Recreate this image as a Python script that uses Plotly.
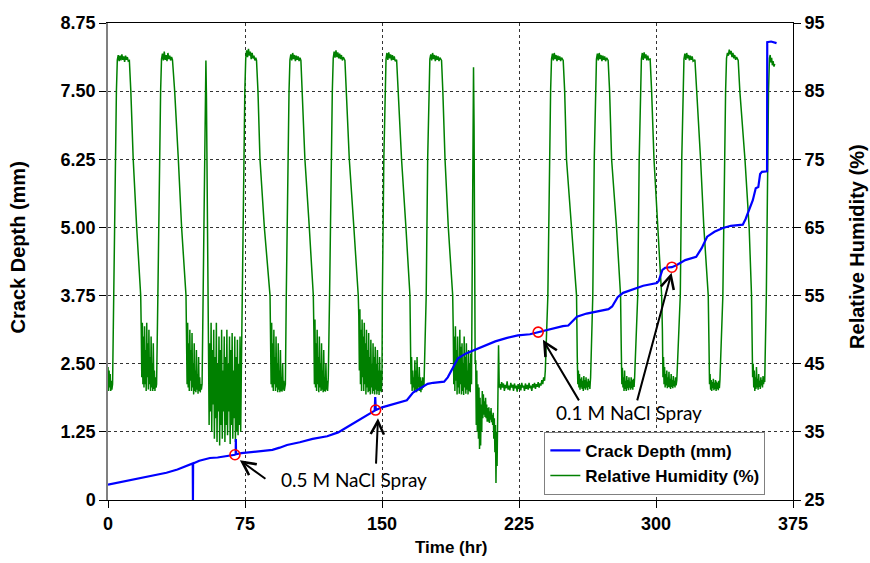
import plotly.graph_objects as go

# ---------------- data ----------------
# Relative humidity (%) vs time (hr)
rh_seg_a = [
    (0, 44.5), (0.3, 41), (0.6, 44), (0.9, 41.5), (1.2, 43.5), (1.5, 41), (1.8, 42.5), (2.1, 41.2), (2.5, 42),
    (3.1, 55), (3.9, 75), (4.6, 85), (5.1, 89.6),
    (5.6, 90.3), (6.1, 89.4), (6.6, 90.2), (7.1, 89.5), (7.6, 90.4), (8.1, 89.6), (8.6, 90.1), (9.1, 89.3),
    (9.6, 90.2), (10.1, 89.6), (10.6, 90), (11.1, 89.4), (11.7, 89.5),
    (12.5, 85), (13.8, 75), (15.7, 65), (17.9, 55),
    (18.2, 50), (18.5, 43), (18.8, 51), (19.1, 42), (19.4, 49), (19.7, 41.5), (20, 50.5), (20.3, 42), (20.6, 47),
    (20.9, 41), (21.2, 51), (21.5, 43), (21.8, 48), (22.1, 41.2), (22.4, 50), (22.7, 42), (23, 46), (23.3, 41),
    (23.6, 49), (23.9, 41.5), (24.2, 45), (24.5, 41), (24.8, 48), (25.1, 41.3), (25.4, 44), (25.7, 41), (26, 43),
    (26.3, 41.5), (26.6, 42),
    (27.3, 55), (28.1, 75), (28.8, 85), (29.3, 89.7),
    (29.8, 90.5), (30.3, 89.5), (30.8, 90.8), (31.3, 89.6), (31.8, 90.3), (32.3, 89.4), (32.8, 90.6), (33.3, 89.7),
    (33.8, 90.2), (34.3, 89.5), (34.8, 90), (35.3, 89.6),
    (36.5, 85), (38.5, 75), (40.3, 65), (42.7, 55),
    (43, 49), (43.3, 42), (43.6, 51), (43.9, 41.5), (44.2, 48), (44.5, 41), (44.8, 50), (45.1, 42.5), (45.4, 47),
    (45.7, 41), (46, 49.5), (46.3, 41.5), (46.6, 45), (46.9, 40.5), (47.2, 48), (47.5, 41), (47.8, 44), (48.1, 40.8),
    (48.4, 47), (48.7, 41.2), (49, 43.5), (49.3, 40.6), (49.6, 46), (49.9, 41), (50.2, 43), (50.5, 40.8), (50.8, 42),
    (51.1, 41.2), (51.5, 42),
    (52.1, 55), (52.8, 75), (53.3, 86), (53.6, 89.5), (53.9, 84), (54.3, 70), (54.7, 55),
    (55.0, 50), (55.36, 36), (55.72, 48), (56.08, 38), (56.44, 51), (56.8, 35), (57.16, 47), (57.52, 39), (57.88, 50),
    (58.24, 34), (58.6, 46), (58.96, 37), (59.32, 51), (59.68, 33.5), (60.04, 45), (60.4, 38), (60.76, 49), (61.12, 33),
    (61.48, 47), (61.84, 36), (62.2, 50), (62.56, 34), (62.92, 44), (63.28, 38), (63.64, 49), (64.0, 33.5), (64.36, 46),
    (64.72, 36), (65.08, 50), (65.44, 34.5), (65.8, 45), (66.16, 38), (66.52, 49), (66.88, 33.2), (67.24, 47), (67.6, 36),
    (67.96, 49.5), (68.32, 34), (68.68, 44), (69.04, 37), (69.4, 49), (69.76, 33.5), (70.12, 46), (70.48, 35),
    (70.84, 48.5), (71.2, 34.5), (71.56, 45), (71.92, 36), (72.28, 49), (72.64, 35), (73.0, 44),
]
rh_seg_b = [
    (73.4, 55), (74.2, 75), (74.9, 85), (75.4, 89.8),
    (75.9, 91), (76.4, 90), (76.9, 91.2), (77.4, 90.2), (77.9, 90.8), (78.4, 89.7), (78.9, 90.6), (79.4, 89.8),
    (79.9, 90.2), (80.4, 89.5), (80.9, 89.9), (81.3, 89.5),
    (82.1, 85), (83.2, 75), (85.6, 65), (88.7, 55),
    (89, 50), (89.3, 42), (89.6, 51), (89.9, 41.5), (90.2, 48), (90.5, 41), (90.8, 50), (91.1, 42), (91.4, 46),
    (91.7, 41), (92, 49), (92.3, 41.5), (92.6, 45), (92.9, 40.8), (93.2, 48), (93.5, 41.2), (93.8, 44), (94.1, 40.8),
    (94.4, 47), (94.7, 41), (95, 43), (95.3, 40.9), (95.6, 45), (95.9, 41.2), (96.2, 42.5), (96.5, 41), (97.1, 42),
    (97.6, 55), (98.4, 75), (99.1, 85), (99.6, 89.6),
    (100.1, 90.4), (100.6, 89.5), (101.1, 90.6), (101.6, 89.7), (102.1, 90.3), (102.6, 89.4), (103.1, 90.2),
    (103.6, 89.6), (104.1, 90.1), (104.6, 89.4), (105.1, 89.9), (105.6, 89.5),
    (106.4, 85), (107.8, 75), (110.2, 65), (112.4, 55),
    (112.7, 50), (113, 42), (113.3, 51.5), (113.6, 41.5), (113.9, 48), (114.2, 41), (114.5, 50), (114.8, 42),
    (115.1, 46), (115.4, 40.8), (115.7, 49), (116, 41.5), (116.3, 45), (116.6, 41), (116.9, 48), (117.2, 41.2),
    (117.5, 44), (117.8, 40.8), (118.1, 47), (118.4, 41), (118.7, 43), (119, 40.9), (119.3, 45), (119.6, 41.2),
    (119.9, 42.5), (120.2, 41), (120.6, 43),
    (121.3, 55), (122.1, 75), (122.8, 85), (123.3, 89.8),
    (123.8, 90.8), (124.3, 89.9), (124.8, 91), (125.3, 90), (125.8, 90.7), (126.3, 89.8), (126.8, 90.5),
    (127.3, 89.7), (127.8, 90.3), (128.3, 89.5), (128.8, 90), (129.7, 89.5),
    (130.5, 85), (132.1, 75), (134.6, 65), (137, 55),
    (137.3, 52), (137.6, 44), (137.9, 53), (138.2, 42), (138.5, 50), (138.8, 41), (139.1, 51.5), (139.4, 43),
    (139.7, 49), (140, 41), (140.3, 51), (140.6, 42), (140.9, 48), (141.2, 40.5), (141.5, 50), (141.8, 41.5),
    (142.1, 47), (142.4, 40.8), (142.7, 49.5), (143, 41), (143.3, 46), (143.6, 40.5), (143.9, 48.5), (144.2, 41.5),
    (144.5, 45), (144.8, 40.6), (145.1, 48), (145.4, 41), (145.7, 46), (146, 40.5), (146.3, 47.5), (146.6, 41.2),
    (146.9, 45), (147.2, 40.5), (147.5, 47), (147.8, 41), (148.1, 44), (148.4, 40.4), (148.7, 46), (149, 41),
    (149.3, 44), (149.6, 40.8), (150, 43),
]
rh_seg_c = [
    (150.2, 55), (151, 75), (151.7, 85), (152.2, 89.7),
    (152.7, 90.6), (153.2, 89.6), (153.7, 90.7), (154.2, 89.8), (154.7, 90.4), (155.2, 89.5), (155.7, 90.3),
    (156.2, 89.6), (156.7, 90.1), (157.2, 89.4), (158, 89.6),
    (158.8, 85), (160.7, 75), (163.1, 65), (165.3, 55),
    (165.6, 48), (165.9, 42), (166.2, 46), (166.5, 41), (166.8, 44), (167.1, 41.5), (167.4, 43), (167.7, 41),
    (168, 45.5), (168.3, 41.2), (168.6, 44), (168.9, 40.8), (169.2, 46), (169.5, 41), (169.8, 43), (170.1, 41.5),
    (170.4, 44.5), (170.7, 41), (171, 43), (171.3, 40.8), (171.6, 42.5), (171.9, 41.2), (172.2, 43), (172.6, 41.5),
    (173, 42),
    (174.2, 55), (175, 75), (175.7, 85), (176.2, 89.7),
    (176.7, 90.4), (177.2, 89.5), (177.7, 90.6), (178.2, 89.7), (178.7, 90.3), (179.2, 89.4), (179.7, 90.2),
    (180.2, 89.6), (180.7, 90.1), (181.2, 89.4), (181.7, 89.9), (182.6, 89.5),
    (183.3, 85), (184.5, 75), (186.3, 65), (188.7, 55),
    (189, 50), (189.3, 42), (189.6, 49), (189.9, 41), (190.2, 50.5), (190.5, 42.5), (190.8, 47), (191.1, 40.5),
    (191.4, 49), (191.7, 41.5), (192, 46), (192.3, 40.6), (192.6, 50), (192.9, 42), (193.2, 47.5), (193.5, 40.5),
    (193.8, 48), (194.1, 41), (194.4, 45), (194.7, 40.4), (195, 49), (195.3, 41.5), (195.6, 46), (195.9, 40.6),
    (196.2, 48), (196.5, 41.2), (196.8, 44), (197.1, 40.5), (197.4, 47), (197.7, 41), (198, 45), (198.3, 40.8),
    (198.6, 46.5), (199, 42),
    (199.4, 60), (199.8, 80), (200.1, 88.5), (200.4, 80), (200.7, 60), (201, 45),
    (201.3, 45.5), (201.6, 36), (201.9, 44), (202.2, 35), (202.5, 42), (202.8, 34), (203.1, 41.5), (203.4, 32.5),
    (203.7, 40), (204, 33), (204.3, 39), (204.6, 35), (204.9, 41), (205.2, 37), (205.5, 40.5), (205.8, 37.5),
    (206.1, 39.5), (206.4, 37.2), (206.7, 40), (207, 37), (207.3, 39), (207.6, 36.5), (207.9, 38.5), (208.2, 36.5),
    (208.5, 38.6), (208.8, 36.3), (209.1, 38), (209.4, 36.8), (209.7, 38.5), (210, 36.4), (210.3, 37.5), (210.6, 36),
    (210.9, 37.8), (211.2, 34), (211.5, 37), (211.8, 32), (212.1, 36), (212.4, 27.5), (212.7, 35), (213, 30),
    (213.4, 38), (213.8, 47.7), (214.2, 41.5),
    (214.6, 42), (215, 41.2), (215.5, 42.3), (216, 41.5), (216.5, 42.1), (217, 41), (217.5, 41.9), (218, 41.4),
    (218.5, 42.4), (219, 41.2), (219.5, 41.8), (220, 41.1), (220.5, 42.2), (221, 41.5), (221.5, 41.9), (222, 41),
    (222.5, 42.1), (223, 41.4), (223.5, 41.8), (224, 40.9), (224.5, 42), (225, 41.3), (225.5, 41.9), (226, 41.1),
    (226.5, 42.2), (227, 41.5), (227.5, 41.8), (228, 41), (228.5, 42.1), (229, 41.3), (229.5, 41.9), (230, 41.2),
    (230.5, 42.2), (231, 41.4), (231.5, 41.8), (232, 41), (232.5, 42), (233, 41.5), (233.5, 42.2), (234, 41.3),
    (234.5, 42), (235, 41.6), (235.5, 42.3), (236, 41.5), (236.5, 42.1), (237, 41.8), (237.5, 42.6), (238, 42),
    (238.5, 43), (239, 42.5), (239.4, 44),
]
rh_seg_d = [
    (240.8, 55), (241.6, 75), (242.3, 85), (242.8, 89.7),
    (243.3, 90.5), (243.8, 89.5), (244.3, 90.6), (244.8, 89.7), (245.3, 90.3), (245.8, 89.4), (246.3, 90.2),
    (246.8, 89.6), (247.3, 90.1), (247.8, 89.4), (248.3, 89.9), (249.2, 89.5),
    (250, 85), (251, 75), (253.7, 65), (256.5, 55),
    (256.9, 46), (257.2, 42), (257.5, 44), (257.8, 41.5), (258.1, 43.5), (258.4, 41.2), (258.7, 42.8), (259, 41.5),
    (259.3, 43), (259.6, 41.3), (259.9, 42.5), (260.2, 41), (260.5, 43.2), (260.8, 41.4), (261.1, 42.6), (261.4, 41.2),
    (261.7, 43), (262, 41.5), (262.3, 42.4), (262.6, 41.1), (262.9, 42.8), (263.2, 41.6), (263.5, 42.5), (263.8, 41.3),
    (264.2, 43),
    (265.4, 55), (266.2, 75), (266.9, 85), (267.4, 89.7),
    (267.9, 90.5), (268.4, 89.5), (268.9, 90.6), (269.4, 89.7), (269.9, 90.3), (270.4, 89.4), (270.9, 90.2),
    (271.4, 89.6), (271.9, 90.1), (272.4, 89.4), (273, 89.9), (273.8, 89.5),
    (274.6, 85), (275.7, 75), (278.4, 65), (280.6, 55),
    (281, 47), (281.3, 42), (281.6, 44.4), (281.9, 41.5), (282.2, 43), (282.5, 41), (282.8, 44), (283.1, 41.3),
    (283.4, 42.5), (283.7, 41), (284, 43.2), (284.3, 41.4), (284.6, 42.6), (284.9, 41.1), (285.2, 43), (285.5, 41.5),
    (285.8, 42.4), (286.1, 41.2), (286.4, 43), (286.7, 41.4), (287, 42.6), (287.3, 41.2), (287.6, 42.8), (288, 41.6),
    (288.3, 43),
    (290, 55), (290.8, 75), (291.5, 85), (292, 89.7),
    (292.5, 90.6), (293, 89.6), (293.5, 90.7), (294, 89.8), (294.5, 90.4), (295, 89.5), (295.5, 90.2),
    (296, 89.6), (296.8, 89.7),
    (297.6, 85), (298.9, 75), (301.2, 65), (303.1, 55),
    (303.5, 50), (303.8, 43), (304.1, 46), (304.4, 42), (304.7, 44.5), (305, 41.5), (305.3, 43.5), (305.6, 41.8),
    (305.9, 44), (306.2, 41.4), (306.5, 43), (306.8, 41.6), (307.1, 43.8), (307.4, 41.5), (307.7, 42.8), (308, 41.3),
    (308.3, 43.5), (308.6, 41.6), (308.9, 42.6), (309.2, 41.4), (309.5, 43.2), (309.8, 41.7), (310.1, 42.5),
    (310.4, 41.5), (310.7, 43), (311, 41.8), (311.4, 42.6),
    (313.3, 55), (314.1, 75), (314.8, 85), (315.3, 89.7),
    (315.8, 90.5), (316.3, 89.6), (316.8, 90.6), (317.3, 89.8), (317.8, 90.3), (318.3, 89.5), (318.8, 90.2),
    (319.3, 89.6), (319.8, 90.1), (320.3, 89.4), (321.3, 89.6),
    (322.3, 85), (324.4, 75), (326.2, 65), (328.6, 55),
    (329, 48), (329.3, 42), (329.6, 43.5), (329.9, 41.2), (330.2, 42.6), (330.5, 41), (330.8, 42.3), (331.1, 41.4),
    (331.4, 42.8), (331.7, 41.1), (332, 42.2), (332.3, 41.3), (332.6, 42.6), (332.9, 41), (333.2, 42.4), (333.5, 41.3),
    (333.8, 42.2), (334.1, 41.1), (334.4, 42.5), (334.7, 41.4), (335, 42.6),
    (336.6, 55), (337.4, 75), (338.1, 85), (338.6, 89.8),
    (339.1, 90.6), (339.6, 90.2), (340.1, 91.1), (340.6, 90.4), (341.1, 90.9), (341.6, 90), (342.1, 90.6),
    (342.6, 89.8), (343.1, 90.3), (343.6, 89.6), (344.1, 90), (345, 89.5),
    (345.9, 85), (348.7, 75), (351, 65), (352.3, 55),
    (352.6, 48), (352.9, 43), (353.2, 45), (353.5, 41.5), (353.8, 44), (354.1, 41), (354.4, 43), (354.7, 41.3),
    (355, 44.5), (355.3, 41.5), (355.6, 42.8), (355.9, 41.2), (356.2, 43.5), (356.5, 41.6), (356.8, 42.5),
    (357.1, 41.3), (357.4, 43), (357.7, 41.8), (358, 42.6), (358.3, 41.5), (358.6, 43.2), (358.9, 42), (359.2, 43),
    (359.5, 42.3),
    (360.4, 55), (361, 75), (361.6, 85), (362.1, 89.8), (362.5, 90.3), (362.9, 89.2), (363.3, 89.9), (363.7, 88.8),
    (364.1, 89.4), (364.6, 88.6), (365, 89),
]

# Crack depth (mm) vs time (hr)
crack_depth = [
    (0, 0.28), (3, 0.30), (8, 0.33), (13.7, 0.38), (20, 0.42), (26, 0.45), (32, 0.50), (38, 0.56), (44, 0.64),
    (46.4, 0.67), (46.5, 0.0), (46.6, 0.67), (50, 0.72), (55.8, 0.77), (60, 0.78), (65, 0.80), (69.5, 0.83),
    (69.9, 0.84), (70, 1.12), (70.1, 0.84), (73, 0.86), (77.7, 0.88), (85, 0.90), (90, 0.92), (94, 0.96), (98, 1.01),
    (105, 1.06), (112, 1.12), (120, 1.17), (126, 1.24), (131, 1.34), (135, 1.42), (138, 1.47), (142, 1.56),
    (146, 1.64), (146.3, 1.89), (146.6, 1.65), (150, 1.70), (156, 1.76), (163.6, 1.83), (167, 1.97), (170.8, 2.04),
    (175, 2.13), (178, 2.15), (184, 2.17), (186, 2.25), (189, 2.45), (191.6, 2.60), (196, 2.69), (201, 2.76),
    (206, 2.84), (212, 2.91), (218, 2.97), (224.4, 3.02), (231, 3.04), (235.5, 3.08), (242, 3.13), (249, 3.19),
    (252, 3.20), (254, 3.27), (256.7, 3.36), (262, 3.42), (268, 3.46), (274, 3.50), (276, 3.55), (279, 3.72),
    (282, 3.80), (287, 3.86), (293, 3.93), (300.5, 3.98), (301.5, 4.02), (303.5, 4.22), (305, 4.26), (308.7, 4.27),
    (311.4, 4.31), (316, 4.40), (322, 4.46), (325, 4.62), (328, 4.83), (332, 4.92), (336.6, 4.99), (341, 5.03),
    (347.5, 5.05), (349, 5.15), (351, 5.32), (353, 5.50), (354.6, 5.72), (356, 5.74), (357, 5.98), (358, 6.02),
    (360.8, 6.03), (360.9, 8.40), (363, 8.41), (366, 8.38),
]

# NaCl spray events (marked with red circles)
spray_time = [69.5, 146.5, 235.5, 308.7]
spray_depth = [0.83, 1.65, 3.08, 4.27]

# Annotation labels and arrows (tail -> head) in data units
label_text = ["0.5 M NaCl Spray", "0.1 M NaCl Spray"]
label_pos = [(134.9, 0.37), (285.4, 1.60)]
arrows = [  # (tail_t, tail_d, head_t, head_d)
    (87.0, 0.37, 72.2, 0.73),
    (146.7, 0.64, 147.8, 1.50),
    (258.3, 1.80, 238.1, 2.94),
    (289.5, 1.80, 308.5, 4.17),
]

x_ticks = [0, 75, 150, 225, 300, 375]
depth_ticks = [0, 1.25, 2.5, 3.75, 5.0, 6.25, 7.5, 8.75]
depth_ticktext = ["0", "1.25", "2.50", "3.75", "5.00", "6.25", "7.50", "8.75"]
rh_ticks = [25, 35, 45, 55, 65, 75, 85, 95]

# ---------------- figure ----------------
rh_all = rh_seg_a + rh_seg_b + rh_seg_c + rh_seg_d
rh_t = [p[0] for p in rh_all]
rh_v = [p[1] for p in rh_all]
cd_t = [p[0] for p in crack_depth]
cd_v = [p[1] for p in crack_depth]

FONT = "Liberation Sans, Arial, sans-serif"
fig = go.Figure()

fig.add_trace(go.Scatter(
    x=rh_t, y=rh_v, yaxis="y", mode="lines", name="Relative Humidity (%)",
    line=dict(color="#008000", width=1.5),
))
fig.add_trace(go.Scatter(
    x=cd_t, y=cd_v, yaxis="y2", mode="lines", name="Crack Depth (mm)",
    line=dict(color="#0000FF", width=2.2),
))
fig.add_trace(go.Scatter(
    x=spray_time, y=spray_depth, yaxis="y2", mode="markers", showlegend=False,
    marker=dict(symbol="circle-open", size=10, color="#FF0000", line=dict(width=1.6, color="#FF0000")),
))

annotations = []
for (tx, ty, hx, hy) in arrows:
    annotations.append(dict(
        x=hx, y=hy, ax=tx, ay=ty, xref="x", yref="y2", axref="x", ayref="y2",
        text="", showarrow=True, arrowhead=5, arrowsize=1.3, arrowwidth=2, arrowcolor="black",
    ))
for txt, (lx, ly) in zip(label_text, label_pos):
    annotations.append(dict(
        x=lx, y=ly, xref="x", yref="y2", text=txt, showarrow=False,
        font=dict(family="Lato, Open Sans, sans-serif", size=19, color="black"),
    ))
annotations += [
    dict(x=-0.131, y=0.53, xref="paper", yref="paper", xanchor="center", yanchor="middle",
         text="Crack Depth (mm)", textangle=-90,
         showarrow=False, font=dict(family=FONT, size=20, color="black", weight="bold")),
    dict(x=1.093, y=0.53, xref="paper", yref="paper", xanchor="center", yanchor="middle",
         text="Relative Humidity (%)", textangle=-90,
         showarrow=False, font=dict(family=FONT, size=20, color="black", weight="bold")),
    dict(x=0.5, y=-0.1, xref="paper", yref="paper", xanchor="center", yanchor="middle",
         text="Time (hr)",
         showarrow=False, font=dict(family=FONT, size=17, color="black", weight="bold")),
]

tickfont = dict(family=FONT, size=18, color="black", weight="bold")

fig.update_layout(
    width=870, height=563,
    margin=dict(l=108, r=77, t=23, b=63),
    paper_bgcolor="white", plot_bgcolor="white",
    xaxis=dict(
        range=[0, 375], tickvals=x_ticks, ticks="outside", ticklen=7, tickcolor="black",
        showgrid=True, gridcolor="#333333", griddash="dot", gridwidth=1,
        showline=True, linecolor="black", linewidth=1, mirror=True,
        zeroline=False, tickfont=tickfont,
    ),
    yaxis=dict(
        range=[25, 95], tickvals=rh_ticks, side="right", ticks="outside", ticklen=7, tickcolor="black",
        showgrid=False, showline=True, linecolor="black", linewidth=1,
        zeroline=False, tickfont=tickfont,
    ),
    yaxis2=dict(
        range=[0, 8.75], tickvals=depth_ticks, ticktext=depth_ticktext, side="left", overlaying="y",
        ticks="outside", ticklen=7, tickcolor="black",
        showgrid=True, gridcolor="#333333", griddash="dot", gridwidth=1,
        showline=True, linecolor="#808080", linewidth=1.5,
        zeroline=False, tickfont=tickfont,
    ),
    legend=dict(
        x=0.637, y=0.143, xanchor="left", yanchor="top",
        bgcolor="white", bordercolor="#808080", borderwidth=1,
        font=dict(family=FONT, size=17, color="black", weight="bold"),
        traceorder="reversed", itemwidth=30, tracegroupgap=0,
    ),
    annotations=annotations,
    showlegend=True,
)

fig.write_html("out.html")
